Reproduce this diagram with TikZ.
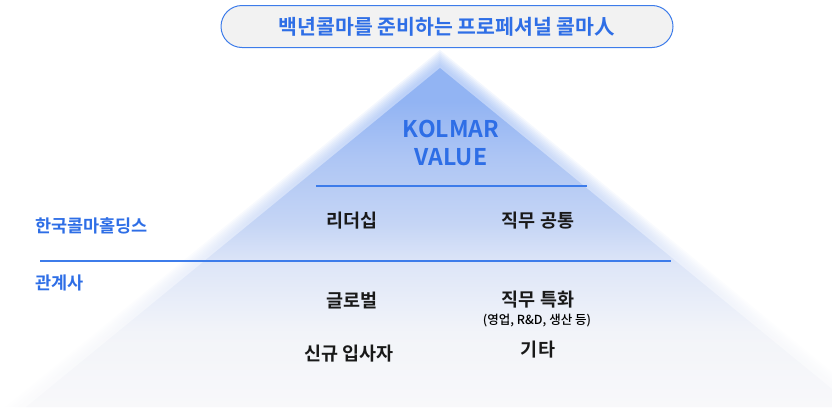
\documentclass[tikz,border=0pt]{standalone}
\usepackage{fontspec}
\setmainfont{Noto Sans CJK KR}[UprightFont=* Medium, BoldFont=* Bold]
\usepackage{xcolor}
\usetikzlibrary{positioning}

\definecolor{kblue}{HTML}{2E6EE6}
\definecolor{kline}{HTML}{3D7CEA}
\definecolor{ktop}{HTML}{92B4F3}
\definecolor{kupper}{HTML}{ADC5F4}
\definecolor{kmid}{HTML}{C5D5F5}
\definecolor{klow}{HTML}{DEE6F8}
\definecolor{kfade}{HTML}{F2F4F9}
\definecolor{kpale}{HTML}{F8F8FA}

\pgfdeclareverticalshading{pyramidfade}{100bp}{color(0bp)=(kpale); color(25bp)=(kpale);
  color(36bp)=(kfade); color(46bp)=(klow); color(52bp)=(kmid); color(62bp)=(kupper);
  color(70bp)=(ktop); color(100bp)=(ktop)}

\tikzset{
  sep/.style={kline, line width=1.3pt},
  item/.style={font=\bfseries\fontsize{18.5}{20}\selectfont, text=black!90, inner sep=0pt},
  group/.style={font=\bfseries\fontsize{17.5}{18}\selectfont, text=kblue, anchor=west, inner sep=0pt},
}

\begin{document}
\begin{tikzpicture}[x=1pt,y=-1pt]
        \useasboundingbox (0,0) rectangle (832,407);
        % soft pyramid
        \foreach \d in {16,14,...,2} {
          \shade[opacity=0.11, shading=pyramidfade]
            (440,66-\d) -- (24-\d*1.2,407) -- (856+\d*1.2,407) -- cycle;
        }
        \shade[shading=pyramidfade] (440,68) -- (26,407) -- (854,407) -- cycle;
        % title
        \node[draw=kline, fill=black!5, line width=1pt, rounded corners=21pt,
              minimum width=452pt, minimum height=42pt, text=kblue,
              font=\bfseries\fontsize{20.5}{22}\selectfont] (title) at (447,26.5) {백년콜마를 준비하는 프로페셔널 콜마人};
        \node[align=center, text=kblue, font=\bfseries\fontsize{23}{28}\selectfont] (value) at (451,143) {KOLMAR\\VALUE};
        % separators
        \coordinate (s1a) at (316,186);
        \coordinate (s1b) at (587,186);
        \coordinate (s2a) at (40,261);
        \coordinate (s2b) at (671,261);
        \draw[sep] (s1a) -- (s1b);
        \draw[sep] (s2a) -- (s2b);
        % groups
        \node[group] (holding) at (35,226) {한국콜마홀딩스};
        \node[group] (affil) at (35,283) {관계사};
        % items
        \node[item] (lead) at (352,221) {리더십};
        \node[item] (common) at (538,221) {직무 공통};
        \node[item] (global) at (352,301) {글로벌};
        \node[item] (special) at (538,300) {직무 특화};
        \node[font=\fontsize{12.5}{14}\selectfont, inner sep=0pt] (detail) at (537,321) {(영업, R\&D, 생산 등)};
        \node[item] (newhire) at (349,354) {신규 입사자};
        \node[item] (etc) at (538,350) {기타};
    \end{tikzpicture}
\end{document}
